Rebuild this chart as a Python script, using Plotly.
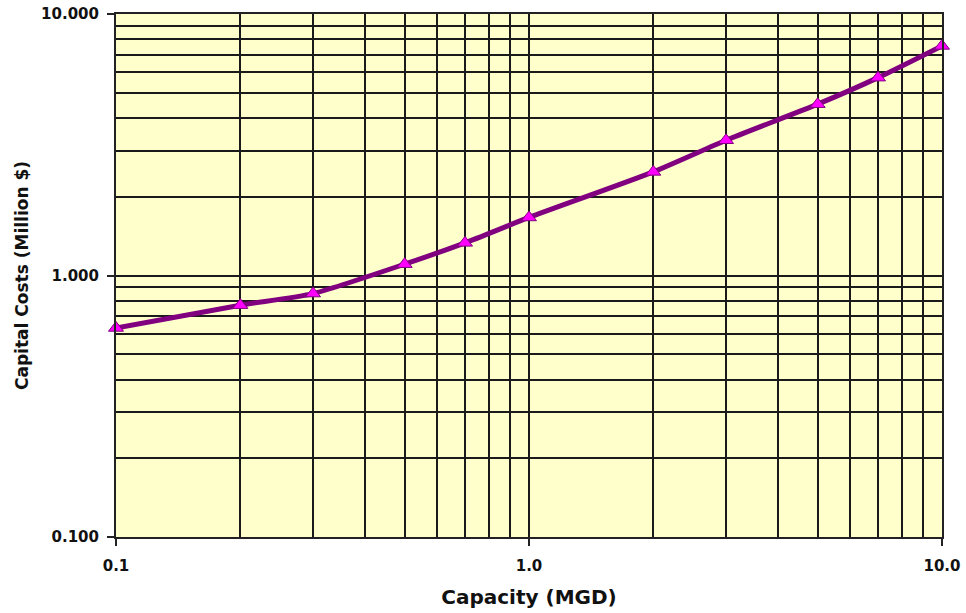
import plotly.graph_objects as go

# Capital cost vs. plant capacity
capacity_mgd = [0.1, 0.2, 0.3, 0.5, 0.7, 1.0, 2.0, 3.0, 5.0, 7.0, 10.0]
capital_cost_musd = [0.630, 0.770, 0.853, 1.105, 1.333, 1.667, 2.49, 3.29, 4.52, 5.71, 7.55]

x_major = [0.1, 1.0, 10.0]
x_major_text = ["0.1", "1.0", "10.0"]
y_major = [0.1, 1.0, 10.0]
y_major_text = ["0.100", "1.000", "10.000"]

# minor gridline positions (2..9 within each decade)
x_minor = [m * d for d in (0.1, 1.0) for m in range(2, 10)]
y_minor = [m * d for d in (0.1, 1.0) for m in range(2, 10)]

font_family = "DejaVu Sans, Arial, sans-serif"
ink = "#111111"

fig = go.Figure()
fig.add_trace(go.Scatter(
    x=capacity_mgd,
    y=capital_cost_musd,
    mode="lines+markers",
    line=dict(color="#800080", width=5, shape="spline", smoothing=0.6),
    marker=dict(symbol="triangle-up", size=13, color="#FF00FF",
                line=dict(color="#800080", width=1)),
    cliponaxis=False,
    showlegend=False,
))

axis_common = dict(
    type="log",
    range=[-1, 1],
    showline=True,
    linecolor="#222222",
    linewidth=2,
    mirror=True,
    showgrid=True,
    gridcolor="#1a1a1a",
    gridwidth=1.5,
    ticks="outside",
    ticklen=7,
    tickwidth=1.5,
    tickcolor="#222222",
    zeroline=False,
    automargin=False,
    tickmode="array",
)

fig.update_xaxes(
    **axis_common,
    tickvals=x_major,
    ticktext=x_major_text,
    tickfont=dict(family=font_family, size=15, color=ink, weight="bold"),
    ticklabelstandoff=7,
    minor=dict(tickvals=x_minor, showgrid=True, gridcolor="#1a1a1a",
               gridwidth=1.5, ticks=""),
    title=dict(text="Capacity (MGD)",
               font=dict(family=font_family, size=20, color=ink, weight="bold"),
               standoff=16),
)
fig.update_yaxes(
    **axis_common,
    tickvals=y_major,
    ticktext=y_major_text,
    tickfont=dict(family=font_family, size=15, color=ink, weight="bold"),
    ticklabelstandoff=5,
    minor=dict(tickvals=y_minor, showgrid=True, gridcolor="#1a1a1a",
               gridwidth=1.5, ticks=""),
    title=dict(text="Capital Costs (Million $)",
               font=dict(family=font_family, size=17, color=ink, weight="bold"),
               standoff=8),
)

fig.update_layout(
    width=966,
    height=613,
    margin=dict(l=116, r=24, t=14, b=76),
    plot_bgcolor="#FFFFCC",
    paper_bgcolor="#FFFFFF",
)

fig.write_html("out.html")
